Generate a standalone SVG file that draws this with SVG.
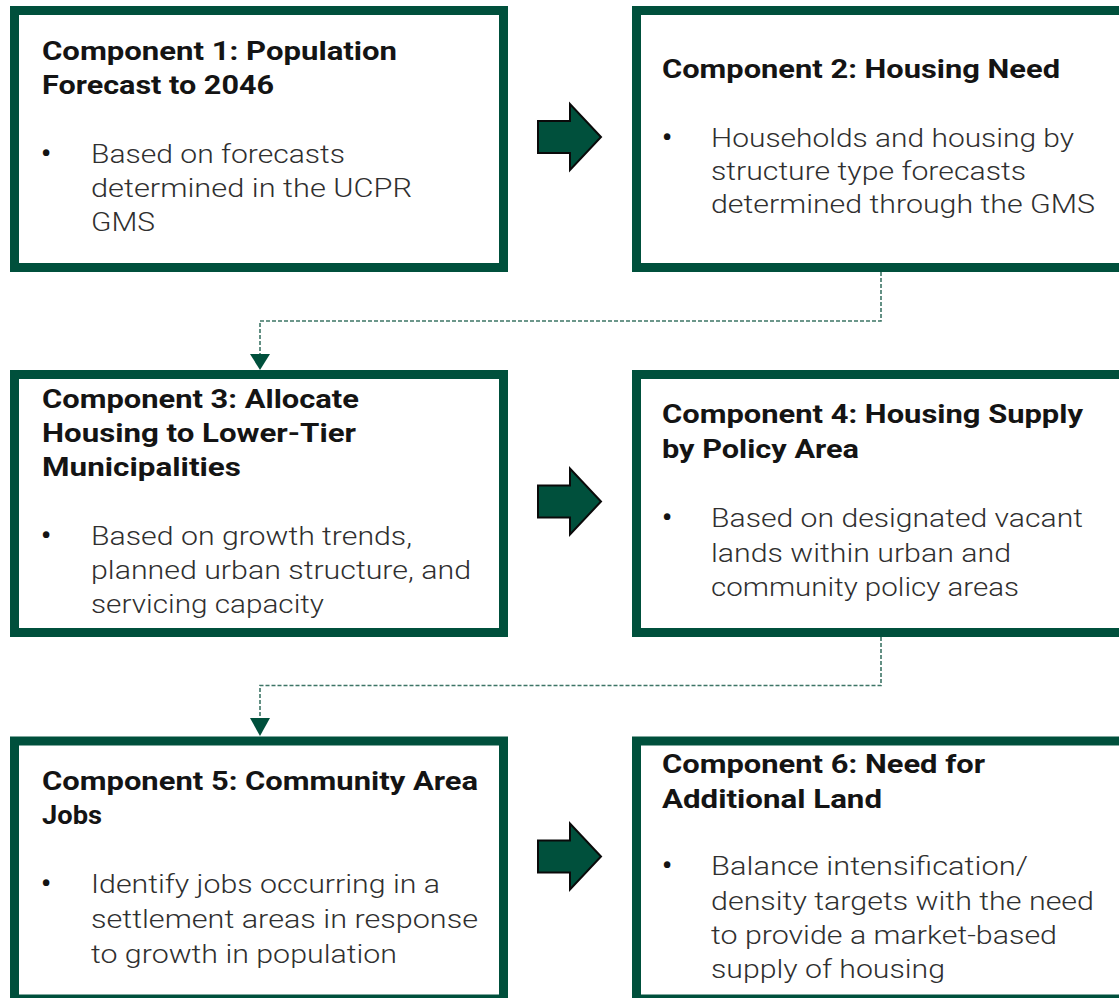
<svg xmlns="http://www.w3.org/2000/svg" width="1119" height="998" viewBox="0 0 1119 998">
  <style>
    .box { fill: #ffffff; stroke: #00503c; stroke-width: 9; }
    .title { font-family: Roboto, "Liberation Sans", Arial, sans-serif; font-size: 26px; font-weight: 700; fill: #141414; }
    .body { font-family: Roboto, "Liberation Sans", Arial, sans-serif; font-size: 25px; font-weight: 300; fill: #2f2f2f; }
    .bullet { font-family: Roboto, "Liberation Sans", Arial, sans-serif; font-size: 28px; font-weight: 700; fill: #141414; }
    .step { fill: #00503c; stroke: #0a0a0a; stroke-width: 2; stroke-linejoin: miter; }
    .link { fill: none; stroke: #3d7566; stroke-width: 1.6; stroke-dasharray: 4 2; }
  </style>
  <defs>
    <path id="stepArrow" class="step" d="M538,-16 L570,-16 L570,-33 L601,0 L570,33 L570,16 L538,16 Z"/>
  </defs>

  <!-- white page -->
  <rect x="0" y="0" width="1119" height="998" fill="#ffffff"/>

  <!-- connectors -->
  <g id="connectors">
    <use href="#stepArrow" transform="translate(0,137)"/>
    <use href="#stepArrow" transform="translate(0,501.5)"/>
    <use href="#stepArrow" transform="translate(0,856.5)"/>
    <path class="link" d="M881,272 V321 H260 V354"/>
    <path d="M250,354 L270,354 L260,370 Z" fill="#00503c"/>
    <path class="link" d="M881,637 V685.5 H260 V718"/>
    <path d="M250,718 L270,718 L260,736 Z" fill="#00503c"/>
  </g>

  <!-- Component 1 -->
  <g id="component-1">
    <rect class="box" x="14.5" y="10.5" width="489" height="257"/>
    <text class="title" x="42" y="60" textLength="355" lengthAdjust="spacingAndGlyphs">Component 1: Population</text>
    <text class="title" x="42" y="94" textLength="232" lengthAdjust="spacingAndGlyphs">Forecast to 2046</text>
    <text class="bullet" x="41" y="163">•</text>
    <text class="body" x="91" y="163.3" textLength="254" lengthAdjust="spacingAndGlyphs">Based on forecasts</text>
    <text class="body" x="91" y="196.7" textLength="321" lengthAdjust="spacingAndGlyphs">determined in the UCPR</text>
    <text class="body" x="91" y="231" textLength="64" lengthAdjust="spacingAndGlyphs">GMS</text>
  </g>

  <!-- Component 2 -->
  <g id="component-2">
    <rect class="box" x="636.5" y="10.5" width="489" height="257"/>
    <text class="title" x="662" y="78.3" textLength="398" lengthAdjust="spacingAndGlyphs">Component 2: Housing Need</text>
    <text class="bullet" x="662" y="146.5">•</text>
    <text class="body" x="711" y="146.7" textLength="363" lengthAdjust="spacingAndGlyphs">Households and housing by</text>
    <text class="body" x="711" y="180" textLength="315" lengthAdjust="spacingAndGlyphs">structure type forecasts</text>
    <text class="body" x="711" y="213.3" textLength="384" lengthAdjust="spacingAndGlyphs">determined through the GMS</text>
  </g>

  <!-- Component 3 -->
  <g id="component-3">
    <rect class="box" x="14.5" y="374.5" width="489" height="258"/>
    <text class="title" x="42" y="407.7" textLength="317" lengthAdjust="spacingAndGlyphs">Component 3: Allocate</text>
    <text class="title" x="42" y="441.7" textLength="314" lengthAdjust="spacingAndGlyphs">Housing to Lower-Tier</text>
    <text class="title" x="42" y="476" textLength="199" lengthAdjust="spacingAndGlyphs">Municipalities</text>
    <text class="bullet" x="41" y="545">•</text>
    <text class="body" x="91" y="545" textLength="321" lengthAdjust="spacingAndGlyphs">Based on growth trends,</text>
    <text class="body" x="91" y="579" textLength="380" lengthAdjust="spacingAndGlyphs">planned urban structure, and</text>
    <text class="body" x="91" y="613.3" textLength="233" lengthAdjust="spacingAndGlyphs">servicing capacity</text>
  </g>

  <!-- Component 4 -->
  <g id="component-4">
    <rect class="box" x="636.5" y="374.5" width="489" height="258"/>
    <text class="title" x="662" y="423.3" textLength="421" lengthAdjust="spacingAndGlyphs">Component 4: Housing Supply</text>
    <text class="title" x="662" y="458.3" textLength="197" lengthAdjust="spacingAndGlyphs">by Policy Area</text>
    <text class="bullet" x="662" y="526.5">•</text>
    <text class="body" x="711" y="526.7" textLength="372" lengthAdjust="spacingAndGlyphs">Based on designated vacant</text>
    <text class="body" x="711" y="561.7" textLength="300" lengthAdjust="spacingAndGlyphs">lands within urban and</text>
    <text class="body" x="711" y="596" textLength="308" lengthAdjust="spacingAndGlyphs">community policy areas</text>
  </g>

  <!-- Component 5 -->
  <g id="component-5">
    <rect class="box" x="14.5" y="741" width="489" height="258"/>
    <text class="title" x="42" y="790" textLength="436" lengthAdjust="spacingAndGlyphs">Component 5: Community Area</text>
    <text class="title" x="42" y="824" textLength="60" lengthAdjust="spacingAndGlyphs">Jobs</text>
    <text class="bullet" x="41" y="893">•</text>
    <text class="body" x="91" y="893.3" textLength="349" lengthAdjust="spacingAndGlyphs">Identify jobs occurring in a</text>
    <text class="body" x="91" y="928.3" textLength="387" lengthAdjust="spacingAndGlyphs">settlement areas in response</text>
    <text class="body" x="91" y="962.7" textLength="306" lengthAdjust="spacingAndGlyphs">to growth in population</text>
  </g>

  <!-- Component 6 -->
  <g id="component-6">
    <rect class="box" x="636.5" y="741" width="489" height="258"/>
    <text class="title" x="662" y="772.7" textLength="323" lengthAdjust="spacingAndGlyphs">Component 6: Need for</text>
    <text class="title" x="662" y="807.7" textLength="220" lengthAdjust="spacingAndGlyphs">Additional Land</text>
    <text class="bullet" x="662" y="875">•</text>
    <text class="body" x="711" y="875" textLength="317" lengthAdjust="spacingAndGlyphs">Balance intensification/</text>
    <text class="body" x="711" y="910" textLength="383" lengthAdjust="spacingAndGlyphs">density targets with the need</text>
    <text class="body" x="711" y="944.3" textLength="346" lengthAdjust="spacingAndGlyphs">to provide a market-based</text>
    <text class="body" x="711" y="978.3" textLength="234" lengthAdjust="spacingAndGlyphs">supply of housing</text>
  </g>
</svg>
